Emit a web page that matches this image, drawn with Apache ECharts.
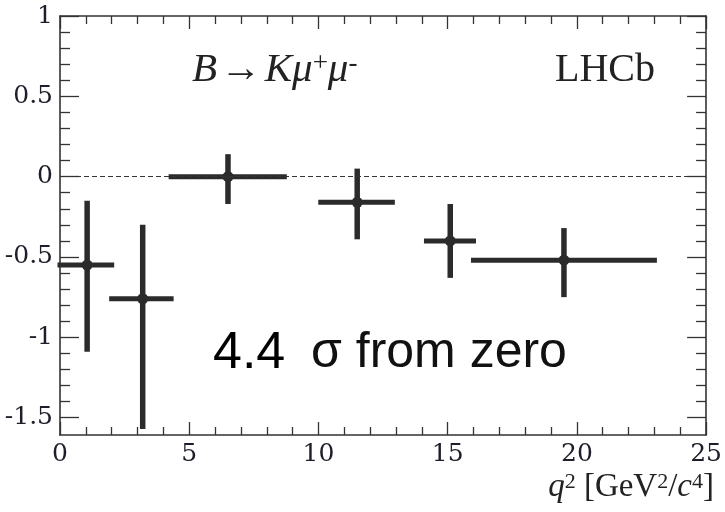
<!DOCTYPE html>
<html>
<head>
<meta charset="utf-8">
<script src="https://cdn.jsdelivr.net/npm/echarts@6/dist/echarts.min.js"></script>
<style>
html, body { margin: 0; padding: 0; background: #fff; }
#chart { width: 725px; height: 512px; }
</style>
</head>
<body>
<div id="chart"></div>
<script>
var binLo   = [0.0, 2.0, 4.3, 10.09, 14.18, 16.0];
var binHi   = [2.0, 4.3, 8.68, 12.86, 16.0, 23.0];
var xCenter = [1.05, 3.2, 6.5, 11.5, 15.1, 19.5];
var yValue  = [-0.55, -0.76, 0.0, -0.16, -0.40, -0.52];
var yLow    = [-1.09, -1.57, -0.17, -0.39, -0.63, -0.75];
var yHigh   = [-0.15, -0.30, 0.14, 0.05, -0.17, -0.32];

var yMajorTicks = [-1.5, -1, -0.5, 0, 0.5, 1];
var yMinorTicks = [-1.4, -1.3, -1.2, -1.1, -0.9, -0.8, -0.7, -0.6,
                   -0.4, -0.3, -0.2, -0.1, 0.1, 0.2, 0.3, 0.4,
                   0.6, 0.7, 0.8, 0.9];

var points = [];
for (var i = 0; i < xCenter.length; i++) {
    points.push([xCenter[i], yValue[i], binLo[i], binHi[i], yLow[i], yHigh[i]]);
}

var frameColor = '#333';
var markColor = '#2b2b2b';
var serif = '"Liberation Serif", "Times New Roman", serif';
var tickFont = '"DejaVu Serif", serif';

function xAxisOpt(pos, showLabel) {
    return {
        type: 'value', position: pos, min: 0, max: 25, interval: 5,
        axisLine: { show: true, onZero: false, lineStyle: { color: frameColor, width: 1.6 } },
        axisTick: { show: true, inside: true, length: 13, lineStyle: { color: frameColor, width: 1.3 } },
        minorTick: { show: true, splitNumber: 5, length: 8, lineStyle: { color: frameColor, width: 1.3 } },
        axisLabel: { show: showLabel, margin: 7, color: '#1e1e2a', fontSize: 25, fontFamily: tickFont },
        splitLine: { show: false }
    };
}

function yAxisOpt(pos, ticks, len, showLabel, showLine) {
    return {
        type: 'value', position: pos, min: -1.608, max: 1,
        axisLine: { show: showLine, onZero: false, lineStyle: { color: frameColor, width: 1.6 } },
        axisTick: { show: true, inside: true, length: len, customValues: ticks,
            lineStyle: { color: frameColor, width: 1.3 } },
        axisLabel: { show: showLabel, customValues: ticks, margin: 7, color: '#1e1e2a',
            fontSize: 25, fontFamily: tickFont },
        splitLine: { show: false }
    };
}

var chart = echarts.init(document.getElementById('chart'));
var option = {
    animation: false,
    backgroundColor: '#fff',
    grid: { left: 60, right: 12, top: 16, bottom: 77 },
    xAxis: [xAxisOpt('bottom', true), xAxisOpt('top', false)],
    yAxis: [
        yAxisOpt('left', yMajorTicks, 19, true, true),
        yAxisOpt('left', yMinorTicks, 10, false, false),
        yAxisOpt('right', yMajorTicks, 19, false, true),
        yAxisOpt('right', yMinorTicks, 10, false, false)
    ],
    series: [{
        type: 'custom',
        xAxisIndex: 0,
        yAxisIndex: 0,
        data: points,
        renderItem: function (params, api) {
            var c = api.coord([api.value(0), api.value(1)]);
            var l = api.coord([api.value(2), api.value(1)]);
            var r = api.coord([api.value(3), api.value(1)]);
            var lo = api.coord([api.value(0), api.value(4)]);
            var hi = api.coord([api.value(0), api.value(5)]);
            return {
                type: 'group',
                children: [
                    { type: 'line', shape: { x1: l[0], y1: l[1], x2: r[0], y2: r[1] },
                      style: { stroke: markColor, lineWidth: 5, lineCap: 'square' } },
                    { type: 'line', shape: { x1: lo[0], y1: lo[1], x2: hi[0], y2: hi[1] },
                      style: { stroke: markColor, lineWidth: 5.5, lineCap: 'butt' } },
                    { type: 'circle', shape: { cx: c[0], cy: c[1], r: 5.5 },
                      style: { fill: markColor } }
                ]
            };
        },
        markLine: {
            silent: true,
            symbol: 'none',
            label: { show: false },
            lineStyle: { color: '#333', type: [5, 3], width: 1.1 },
            data: [{ yAxis: 0 }]
        }
    }],
    graphic: [
        {
            type: 'text', left: 192, top: 50,
            style: {
                text: '{i|B} {r|→} {i|Kμ}{s|+}{i|μ}{s|-}',
                fill: '#222',
                rich: {
                    i: { fontFamily: serif, fontStyle: 'italic', fontSize: 41, fill: '#222', verticalAlign: 'bottom' },
                    r: { fontFamily: serif, fontSize: 41, fill: '#222', verticalAlign: 'bottom' },
                    s: { fontFamily: serif, fontSize: 27, fill: '#222', verticalAlign: 'top' }
                }
            }
        },
        {
            type: 'text', left: 555, top: 50,
            style: { text: 'LHCb', fontFamily: serif, fontSize: 40, fill: '#222' }
        },
        {
            type: 'text', left: 213, top: 328,
            style: { text: '4.4', fontFamily: '"Liberation Sans", Arial, sans-serif', fontSize: 52, fill: '#000' }
        },
        {
            type: 'text', left: 311, top: 328,
            style: { text: 'σ from zero', fontFamily: '"Liberation Sans", Arial, sans-serif', fontSize: 50, fill: '#111' }
        },
        {
            type: 'text', right: 11, top: 471,
            style: {
                text: '{i|q}{s|2}{r| [GeV}{s|2}{r|/}{i|c}{s|4}{r|]}',
                rich: {
                    i: { fontFamily: serif, fontStyle: 'italic', fontSize: 33, fill: '#222', verticalAlign: 'bottom' },
                    r: { fontFamily: serif, fontSize: 33, fill: '#222', verticalAlign: 'bottom' },
                    s: { fontFamily: serif, fontSize: 22, fill: '#222', verticalAlign: 'top' }
                }
            }
        }
    ]
};
chart.setOption(option);
</script>
</body>
</html>
